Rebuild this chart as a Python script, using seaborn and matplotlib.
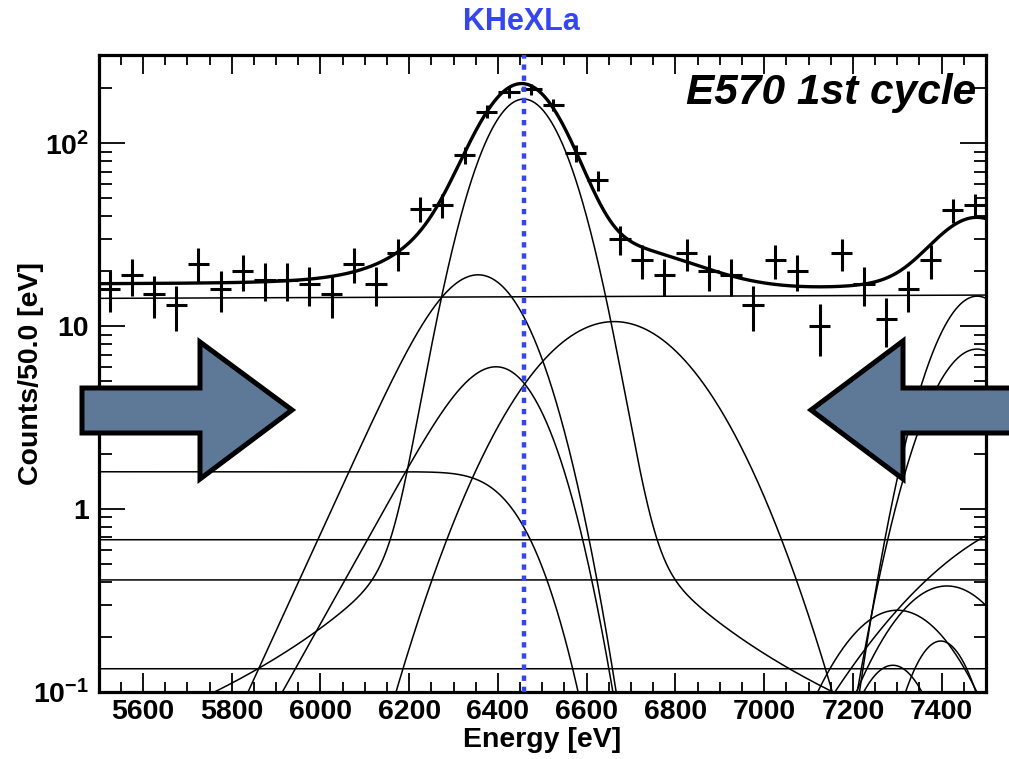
import math
import numpy as np
import pandas as pd
import matplotlib
matplotlib.use("Agg")
import matplotlib.pyplot as plt
import seaborn as sns
from matplotlib.ticker import MultipleLocator, FixedLocator, FixedFormatter, LogLocator, NullFormatter
from matplotlib.patches import Polygon

# ---------------- data ----------------
energy = np.arange(5525, 7500, 50)  # bin centres (50 eV bins)
counts = [16, 19, 15, 13, 22, 16, 20, 18, 18, 17,
          15, 22, 17, 25, 44, 46, 86, 149, 191, 197,
          162, 88, 63, 30, 23, 19, 25, 20, 19, 13,
          23, 20, 10, 25, 17, 11, 16, 23, 43, 46]

# fit components (Gaussian peaks): amplitude, centre, sigma
gauss_amp = [171.0, 10.6, 14.6, 7.5, 0.28, 0.38, 0.19, 0.14, 0.98]
gauss_mu = [6458, 6662, 7480, 7480, 7300, 7412, 7398, 7290, 7700]
gauss_sig = [82, 161, 84, 92, 125, 125, 70, 80, 253]
# Lorentzian-like wings of the main line
wing_w, wing_mu, wing_c = 50000.0, 6458, 120
# low-energy tails (peak height, centre, sigma, slope)
tail_amp = [19.1, 6.0]
tail_mu = [6414, 6460]
tail_sig = [88, 82]
tail_beta = [82, 100]
# shelf
shelf_amp, shelf_mu, shelf_sig = 1.6, 6458, 80
# constant components
const_levels = [0.68, 0.41, 0.134]
# linear background
bkg_lo, bkg_hi = 14.2, 14.8

line_energy = 6458
line_name = "KHeXLa"

# ---------------- model ----------------
erfc = np.vectorize(math.erfc)
x = np.linspace(5500, 7500, 2001)


def gauss(x, a, m, s):
    return a * np.exp(-0.5 * ((x - m) / s) ** 2)


def emg(x, m, s, b):
    z = (x - m) / (np.sqrt(2) * s) + s / (np.sqrt(2) * b)
    return np.exp((x - m) / b) * erfc(z)


comps = {}
for i, (a, m, s) in enumerate(zip(gauss_amp, gauss_mu, gauss_sig)):
    y = gauss(x, a, m, s)
    if i == 0:
        y = y + wing_w / ((x - wing_mu) ** 2 + wing_c ** 2)
    comps[f"g{i}"] = y
for i, (a, m, s, b) in enumerate(zip(tail_amp, tail_mu, tail_sig, tail_beta)):
    t = emg(x, m, s, b)
    comps[f"t{i}"] = a * t / t.max()
comps["shelf"] = shelf_amp * 0.5 * erfc((x - shelf_mu) / (np.sqrt(2) * shelf_sig))
for i, c in enumerate(const_levels):
    comps[f"c{i}"] = np.full_like(x, c)
comps["bkg"] = bkg_lo + (bkg_hi - bkg_lo) * (x - 5500) / 2000.0

total = np.sum(list(comps.values()), axis=0)

df_comp = pd.concat([pd.DataFrame({"E": x, "val": v, "comp": k}) for k, v in comps.items()],
                    ignore_index=True)
df_comp = df_comp[df_comp["val"] > 0.02]
df_tot = pd.DataFrame({"E": x, "val": total})

# ---------------- figure ----------------
sns.set_theme(style="ticks")
plt.rcParams["font.family"] = ["Liberation Sans", "DejaVu Sans"]
plt.rcParams["mathtext.fontset"] = "custom"
plt.rcParams["mathtext.rm"] = "Liberation Sans:bold"
plt.rcParams["mathtext.bf"] = "Liberation Sans:bold"
plt.rcParams["mathtext.default"] = "bf"
plt.rcParams["text.color"] = "black"
plt.rcParams["axes.labelcolor"] = "black"

W, H = 1009, 759
fig = plt.figure(figsize=(W / 100, H / 100), dpi=100)
fig.patch.set_facecolor("white")
ax = fig.add_axes([98.6 / W, 1 - 692 / H, (986 - 98.6) / W, (692 - 55) / H])
ax.set_facecolor("white")

sns.lineplot(data=df_comp, x="E", y="val", units="comp", estimator=None,
             color="black", linewidth=1.1, ax=ax, legend=False, sort=False)
sns.lineplot(data=df_tot, x="E", y="val", color="black", linewidth=2.4, ax=ax,
             legend=False, sort=False)

err = np.sqrt(np.array(counts, dtype=float))
ax.errorbar(energy, counts, yerr=err, xerr=24, fmt="none", ecolor="black",
            elinewidth=2.2, capsize=0, zorder=5)

ax.axvline(line_energy, color="#3344ff", linewidth=3.2, linestyle=(0, (1.2, 1.3)),
           zorder=6)

ax.set_yscale("log")
ax.set_xlim(5500, 7500)
ax.set_ylim(0.1, 304)

ax.xaxis.set_major_locator(MultipleLocator(200))
ax.xaxis.set_minor_locator(MultipleLocator(50))
ax.yaxis.set_major_locator(FixedLocator([0.1, 1, 10, 100]))
ax.yaxis.set_major_formatter(FixedFormatter([r"$10^{-1}$", "1", "10", r"$10^{2}$"]))
ax.yaxis.set_minor_locator(LogLocator(base=10, subs=np.arange(2, 10)))
ax.yaxis.set_minor_formatter(NullFormatter())

for lab in ax.get_xticklabels() + ax.get_yticklabels():
    lab.set_fontweight("bold")
ax.tick_params(axis="both", which="both", direction="in", top=True, right=True,
               width=1.3, colors="black", labelcolor="black", labelsize=20.5)
ax.tick_params(axis="x", which="major", length=14, pad=5)
ax.tick_params(axis="x", which="minor", length=7)
ax.tick_params(axis="y", which="major", length=19, pad=7)
ax.tick_params(axis="y", which="minor", length=9)
for sp in ax.spines.values():
    sp.set_linewidth(2.3)
    sp.set_color("black")

ax.set_xlabel("Energy [eV]", fontsize=20.5, fontweight="bold", color="black")
ax.set_ylabel("Counts/50.0 [eV]", fontsize=20.5, fontweight="bold", color="black")
ax.xaxis.set_label_coords(0.5, -0.055)
ax.yaxis.set_label_coords(-0.062, 0.5)

fig.text(521 / W, 1 - 30 / H, line_name, ha="center", va="baseline",
         fontsize=22, fontweight="bold", color="#3344ff")
fig.text(976 / W, 1 - 104 / H, "E570 1st cycle", ha="right", va="baseline",
         fontsize=30.5, fontweight="bold", style="italic", color="black")

# big arrows (annotation)
def px(pts):
    return [(a / W, 1 - b / H) for a, b in pts]

left_arrow = px([(82, 388), (200, 388), (200, 342), (292, 410), (200, 479), (200, 433), (82, 433)])
right_arrow = px([(1015, 388), (903, 388), (903, 341), (811, 410), (903, 479), (903, 433), (1015, 433)])
for pts in (left_arrow, right_arrow):
    fig.patches.append(Polygon(pts, closed=True, facecolor="#5e7997", edgecolor="black",
                               linewidth=3.6, joinstyle="miter", transform=fig.transFigure,
                               figure=fig, zorder=10))

fig.savefig("out.png", dpi=100)
